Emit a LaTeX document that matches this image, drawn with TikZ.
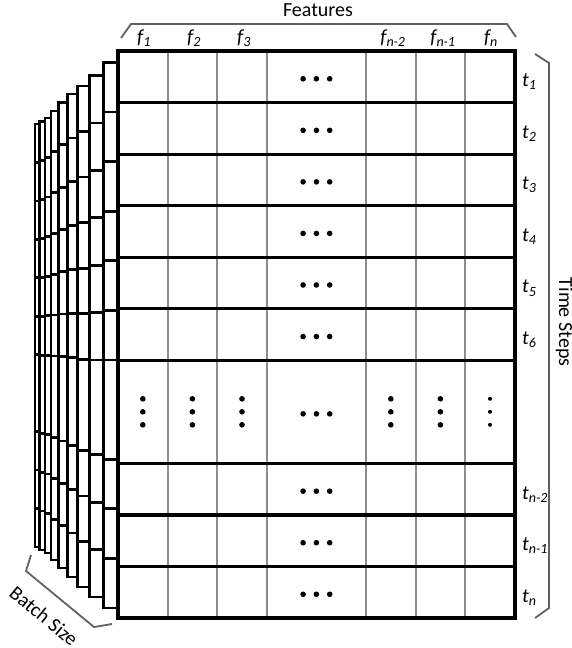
\documentclass[tikz,border=0pt]{standalone}
\usepackage{fontspec}
\setmainfont{Carlito}

\tikzset{
  colline/.style={black!45, line width=1.8pt},
  rowline/.style={black, line width=3.2pt},
  layer/.style={black, line width=2.8pt, fill=white},
  bracket/.style={black!62, line width=1.8pt},
  lbl/.style={font=\fontsize{20}{24}\selectfont, inner sep=0pt}
}

\begin{document}
\begin{tikzpicture}[x=1pt,y=-1pt]
  \useasboundingbox (0,0) rectangle (571,648);

  % Layers behind the front matrix (back to front)
  \foreach \l/\r/\t/\b in {35/39.3/124/547, 39.3/45/121.7/550, 45/51/118/553,
      51/58.3/111/560, 58.3/67.2/102.5/568, 67.2/77.8/94/577,
      77.8/89.5/86/587, 89.5/103.8/75.5/597, 103.8/117.8/62.5/608} {
    \draw[layer] (\l,\t) rectangle (\r,\b);
    \foreach \k in {1,2,3,4,5,6,8,9,10}
      \draw[layer] (\l,{\t+(\b-\t)*\k/11}) -- (\r,{\t+(\b-\t)*\k/11});
  }

  % Front matrix: feature columns and time step rows
  \fill[white] (118,51) rectangle (515,618);
  \foreach \c in {1,2,3,5,6,7}
    \draw[colline] ({118+49.6*\c},51) -- ({118+49.6*\c},618);
  \foreach \k in {1,2,3,4,5,6,8,9,10}
    \draw[rowline] (118,{51+51.55*\k}) -- (515,{51+51.55*\k});
  \draw[black, line width=4pt] (118,51) rectangle (515,618);

  % Dots in the middle column
  \foreach \k in {0,1,2,3,4,5,6.5,8,9,10}
    \foreach \dx in {-13.3,0,13.3}
      \fill ({316.4+\dx},{51+51.55*(\k+0.5)+2}) circle (2.8pt);
  \foreach \c in {0,1,2,5,6}
    \foreach \dy in {-13,0,13}
      \fill ({118+49.6*(\c+0.5)},{411.8+\dy}) circle (2.8pt);
  \foreach \dy in {-13,0,13}
    \fill ({118+49.6*7.5},{411.8+\dy}) circle (2pt);

  % Feature labels
  \node[lbl, anchor=base] (f1) at (144,43) {\textit{f\textsubscript{1}}};
  \node[lbl, anchor=base] (f2) at (194,43) {\textit{f\textsubscript{2}}};
  \node[lbl, anchor=base] (f3) at (244,43) {\textit{f\textsubscript{3}}};
  \node[lbl, anchor=base] (fn2) at (393,43) {\textit{f\textsubscript{n-2}}};
  \node[lbl, anchor=base] (fn1) at (443,43) {\textit{f\textsubscript{n-1}}};
  \node[lbl, anchor=base] (fn) at (491,43) {\textit{f\textsubscript{n}}};
  \draw[bracket] (121,38) -- (131,24) -- (507,24) -- (516,37);
  \node[lbl, anchor=base] (feat) at (318,16) {Features};

  % Time step labels
  \foreach \k/\s in {0/1,1/2,2/3,3/4,4/5,5/6,8/n-2,9/n-1,10/n}
    \node[lbl, anchor=base west] (t\k) at (522,{51+51.55*(\k+0.5)+10}) {\textit{t\textsubscript{\s}}};
  \draw[bracket] (535,54) -- (549,63) -- (549,608) -- (535,618);
  \node[lbl, rotate=-90, anchor=base] (steps) at (559,322) {Time Steps};

  % Batch size
  \draw[bracket] (31,555) -- (26,571) -- (94,627) -- (112,624);
  \node[lbl, rotate=-39.5] (batch) at (44,616) {Batch Size};
\end{tikzpicture}
\end{document}
